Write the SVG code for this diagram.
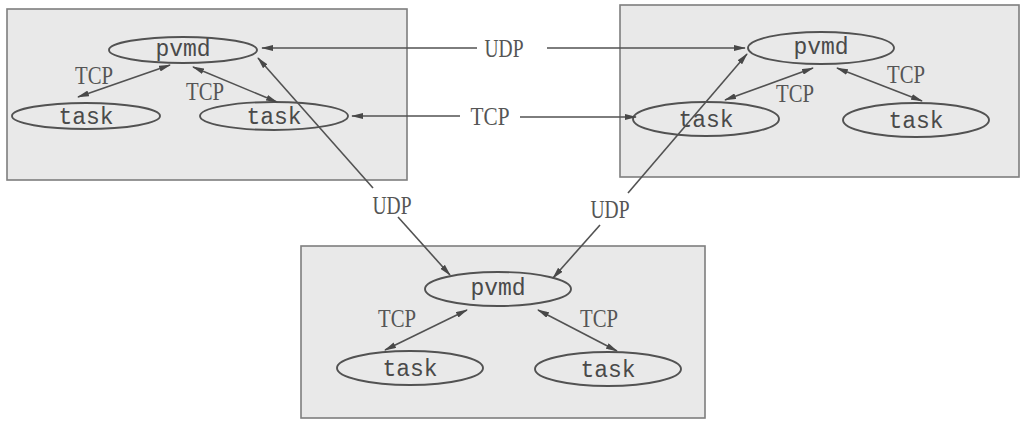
<svg xmlns="http://www.w3.org/2000/svg" width="1023" height="421" viewBox="0 0 1023 421">
<defs>
<style>
.box{fill:#e9e9e9;stroke:#7e7e7e;stroke-width:1.6}
.ell{fill:none;stroke:#525252;stroke-width:1.9}
.mono{font-family:"Liberation Mono","DejaVu Sans Mono",monospace;font-size:23px;fill:#4a4a4a;text-anchor:middle}
.lbl{font-family:"Liberation Serif","DejaVu Serif",serif;font-size:26px;fill:#555555;text-anchor:middle}
.ln{fill:none;stroke:#525252;stroke-width:1.6}
.one{marker-end:url(#ah)}
.two{marker-start:url(#ah);marker-end:url(#ah)}
</style>
<marker id="ah" viewBox="0 0 12 6" refX="11" refY="3" markerWidth="12" markerHeight="6" orient="auto-start-reverse" markerUnits="userSpaceOnUse">
<path d="M0,0 L12,3 L0,6 z" fill="#484848"/>
</marker>
</defs>
<rect width="1023" height="421" fill="#ffffff"/>
<g id="host-left">
<rect class="box" x="7" y="9" width="400" height="171"/>
</g>
<g id="host-right">
<rect class="box" x="620" y="5" width="399" height="172"/>
</g>
<g id="host-bottom">
<rect class="box" x="301" y="246" width="404" height="172"/>
</g>
<g id="pvmd-left"><ellipse class="ell" cx="183" cy="50" rx="74" ry="13"/><text class="mono" x="183" y="56">pvmd</text></g>
<g id="task-left-1"><ellipse class="ell" cx="86" cy="116" rx="74" ry="13"/><text class="mono" x="86" y="124">task</text></g>
<g id="task-left-2"><ellipse class="ell" cx="274" cy="116" rx="74" ry="14"/><text class="mono" x="274" y="124">task</text></g>
<g id="pvmd-right"><ellipse class="ell" cx="821" cy="48" rx="73" ry="16"/><text class="mono" x="821" y="54">pvmd</text></g>
<g id="task-right-1"><ellipse class="ell" cx="706" cy="119" rx="73" ry="17"/><text class="mono" x="706" y="127">task</text></g>
<g id="task-right-2"><ellipse class="ell" cx="916" cy="120" rx="73" ry="17"/><text class="mono" x="916" y="128">task</text></g>
<g id="pvmd-bottom"><ellipse class="ell" cx="498" cy="289" rx="73" ry="17"/><text class="mono" x="498" y="295">pvmd</text></g>
<g id="task-bottom-1"><ellipse class="ell" cx="410" cy="368" rx="73" ry="17"/><text class="mono" x="410" y="376">task</text></g>
<g id="task-bottom-2"><ellipse class="ell" cx="608" cy="369" rx="73" ry="17"/><text class="mono" x="608" y="377">task</text></g>
<g id="connectors">
<line class="ln two" x1="170" y1="65" x2="78" y2="97"/>
<line class="ln two" x1="193" y1="67" x2="277" y2="102"/>
<line class="ln two" x1="813" y1="68" x2="725" y2="100"/>
<line class="ln two" x1="837" y1="68" x2="922" y2="101"/>
<line class="ln two" x1="467" y1="310" x2="385" y2="350"/>
<line class="ln two" x1="538" y1="310" x2="617" y2="351"/>
<line class="ln one" x1="477" y1="48" x2="262" y2="48"/>
<line class="ln one" x1="547" y1="48" x2="745" y2="48"/>
<line class="ln one" x1="460" y1="116" x2="352" y2="116"/>
<line class="ln one" x1="520" y1="117" x2="636" y2="117"/>
<line class="ln one" x1="373" y1="188" x2="258" y2="58"/>
<line class="ln one" x1="398" y1="217" x2="450" y2="275"/>
<line class="ln one" x1="628" y1="193" x2="747" y2="54"/>
<line class="ln one" x1="600" y1="225" x2="553" y2="278"/>
<text class="lbl" x="94" y="84" textLength="38" lengthAdjust="spacingAndGlyphs">TCP</text>
<text class="lbl" x="205" y="100" textLength="38" lengthAdjust="spacingAndGlyphs">TCP</text>
<text class="lbl" x="795" y="102" textLength="38" lengthAdjust="spacingAndGlyphs">TCP</text>
<text class="lbl" x="906" y="83" textLength="38" lengthAdjust="spacingAndGlyphs">TCP</text>
<text class="lbl" x="397" y="327" textLength="38" lengthAdjust="spacingAndGlyphs">TCP</text>
<text class="lbl" x="599" y="327" textLength="38" lengthAdjust="spacingAndGlyphs">TCP</text>
<text class="lbl" x="490" y="125" textLength="39" lengthAdjust="spacingAndGlyphs">TCP</text>
<text class="lbl" x="504" y="57" textLength="39" lengthAdjust="spacingAndGlyphs">UDP</text>
<text class="lbl" x="392" y="214" textLength="39" lengthAdjust="spacingAndGlyphs">UDP</text>
<text class="lbl" x="610" y="218" textLength="39" lengthAdjust="spacingAndGlyphs">UDP</text>
</g>
</svg>
